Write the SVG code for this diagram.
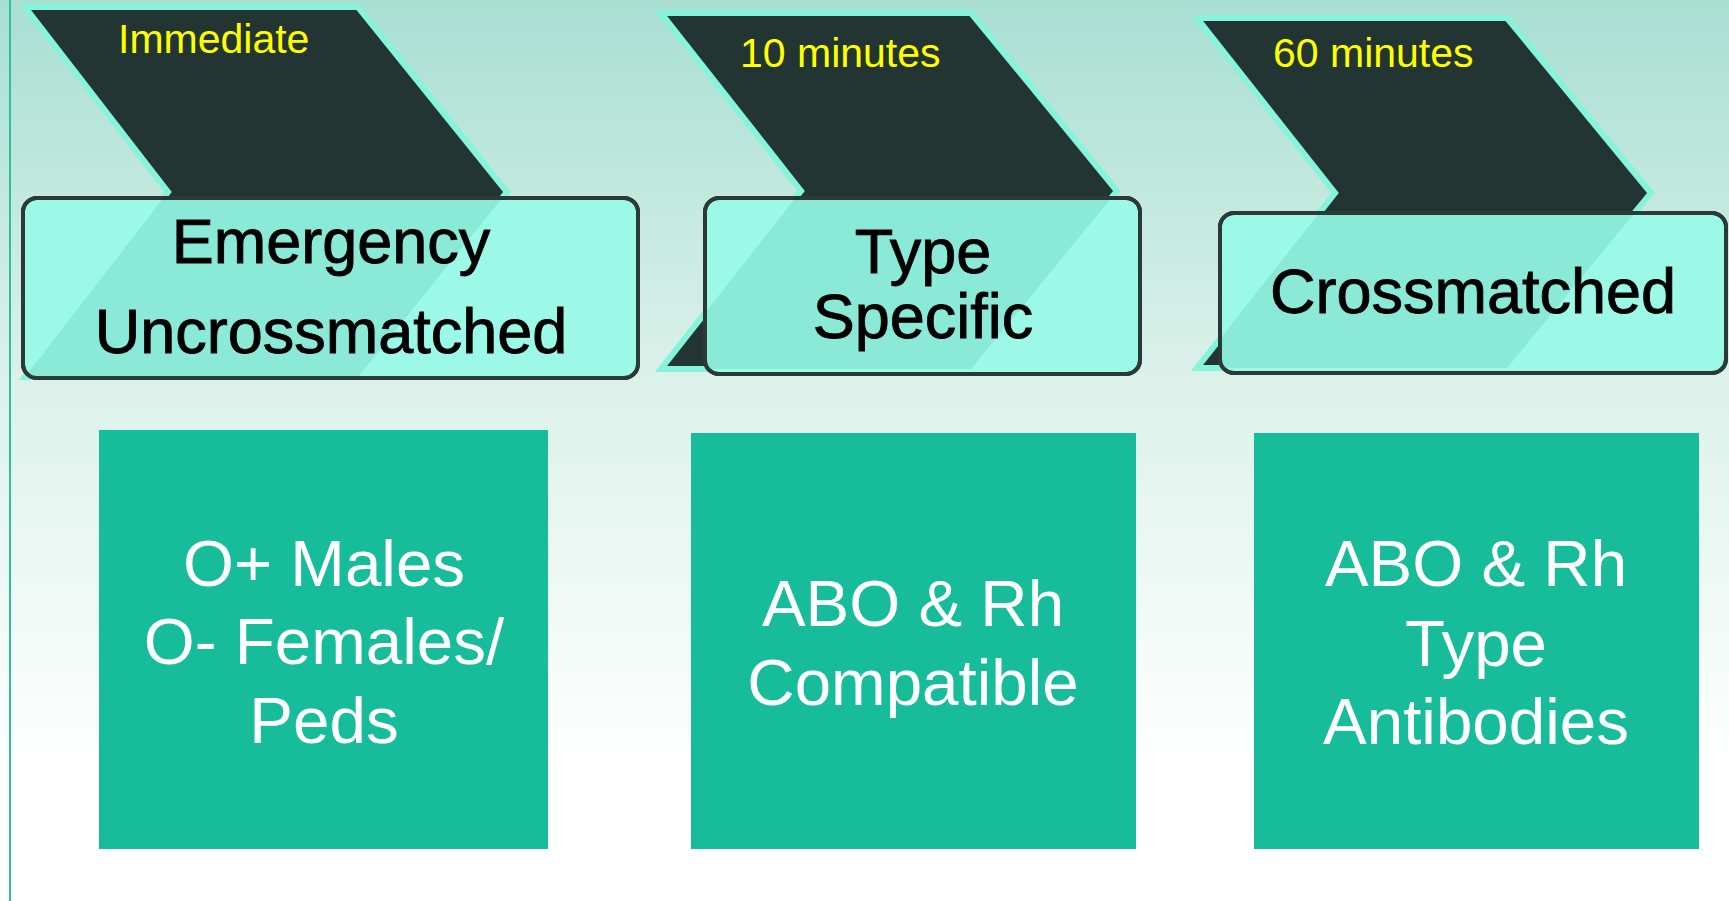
<svg xmlns="http://www.w3.org/2000/svg" width="1729" height="901" viewBox="0 0 1729 901">
  <defs>
    <linearGradient id="bg" x1="0" y1="0" x2="0" y2="1">
      <stop offset="0" stop-color="#a9dfd2"/>
      <stop offset="0.42" stop-color="#dbf1ea"/>
      <stop offset="0.85" stop-color="#ffffff"/>
      <stop offset="1" stop-color="#ffffff"/>
    </linearGradient>
    <clipPath id="clip1"><rect x="23" y="198" width="615" height="180" rx="14"/></clipPath>
    <clipPath id="clip2"><rect x="705" y="198" width="435" height="176" rx="14"/></clipPath>
    <clipPath id="clip3"><rect x="1220" y="213" width="506" height="160" rx="14"/></clipPath>
  </defs>
  <style>
    .chev { fill: #223533; stroke: #86f4dc; stroke-width: 6; stroke-linejoin: miter; }
    .tag { fill: #9cf9e7; stroke: #2b3a37; stroke-width: 4; }
    .band { fill: #8ae9d7; }
    .time { font-family: "Liberation Sans", Arial, sans-serif; font-size: 41px; fill: #ffff00; }
    .title { font-family: "Liberation Sans", Arial, sans-serif; font-size: 63px; fill: #000000; stroke: #000000; stroke-width: 0.9; text-anchor: middle; }
    .box { fill: #17bd9b; }
    .desc { font-family: "Liberation Sans", Arial, sans-serif; font-size: 65.5px; fill: #ffffff; text-anchor: middle; }
  </style>

  <!-- backdrop -->
  <rect x="0" y="0" width="1729" height="901" fill="url(#bg)"/>
  <line x1="10" y1="0" x2="10" y2="901" stroke="#2dbf9f" stroke-width="2"/>

  <!-- stage 1: emergency release -->
  <g id="stage-immediate">
    <polygon class="chev" points="25,7 358,7 507,192 358,377 25,377 168,192"/>
    <rect class="tag" x="23" y="198" width="615" height="180" rx="14"/>
    <polygon class="band" clip-path="url(#clip1)" points="168,192 507,192 358,377 25,377"/>
    <rect x="23" y="198" width="615" height="180" rx="14" fill="none" stroke="#2b3a37" stroke-width="4"/>
    <text class="time" x="118" y="53">Immediate</text>
    <text class="title" x="331" y="263">Emergency</text>
    <text class="title" x="331" y="353">Uncrossmatched</text>
  </g>

  <!-- stage 2: type specific -->
  <g id="stage-type-specific">
    <polygon class="chev" points="661,13 971,13 1117,191 971,369 661,369 801,191"/>
    <rect class="tag" x="705" y="198" width="435" height="176" rx="14"/>
    <polygon class="band" clip-path="url(#clip2)" points="801,191 1117,191 971,369 661,369"/>
    <rect x="705" y="198" width="435" height="176" rx="14" fill="none" stroke="#2b3a37" stroke-width="4"/>
    <text class="time" x="740" y="67">10 minutes</text>
    <text class="title" x="923" y="273">Type</text>
    <text class="title" x="923" y="338">Specific</text>
  </g>

  <!-- stage 3: full crossmatch -->
  <g id="stage-crossmatched">
    <polygon class="chev" points="1197,18 1507,18 1651,193 1507,368 1197,368 1335,193"/>
    <rect class="tag" x="1220" y="213" width="506" height="160" rx="14"/>
    <polygon class="band" clip-path="url(#clip3)" points="1335,193 1651,193 1507,368 1197,368"/>
    <rect x="1220" y="213" width="506" height="160" rx="14" fill="none" stroke="#2b3a37" stroke-width="4"/>
    <text class="time" x="1273" y="67">60 minutes</text>
    <text class="title" x="1473" y="313">Crossmatched</text>
  </g>

  <!-- detail boxes -->
  <g id="detail-immediate">
    <rect class="box" x="99" y="430" width="449" height="419"/>
    <text class="desc" x="324" y="586">O+ Males</text>
    <text class="desc" x="324" y="664">O- Females/</text>
    <text class="desc" x="324" y="743">Peds</text>
  </g>
  <g id="detail-type-specific">
    <rect class="box" x="691" y="433" width="445" height="416"/>
    <text class="desc" x="913" y="626">ABO &amp; Rh</text>
    <text class="desc" x="913" y="705">Compatible</text>
  </g>
  <g id="detail-crossmatched">
    <rect class="box" x="1254" y="433" width="445" height="416"/>
    <text class="desc" x="1476" y="586">ABO &amp; Rh</text>
    <text class="desc" x="1476" y="666">Type</text>
    <text class="desc" x="1476" y="744">Antibodies</text>
  </g>

  <g id="connectors"/>
</svg>
